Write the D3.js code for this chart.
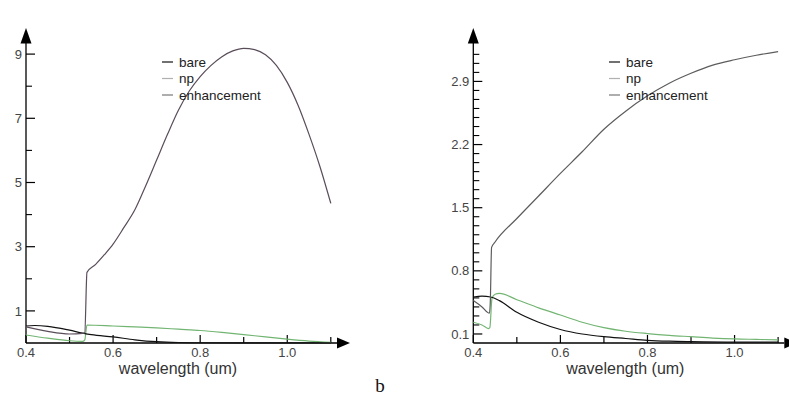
<!DOCTYPE html>
<html><head><meta charset="utf-8">
<script src="https://cdn.jsdelivr.net/npm/d3@7"></script>
<style>body{margin:0;background:#fff}svg{display:block}</style>
</head><body>
<svg id="c" width="789" height="400"></svg>
<script>
// ---- data ----
const seriesNames = ["bare", "np", "enhancement"];
const xTicks = [0.4, 0.6, 0.8, 1.0];
const xMinor = [0.5, 0.7, 0.9, 1.1];

// panel a
const aYTicks = [1, 3, 5, 7, 9];
const aYMinor = [2, 4, 6, 8];
const aBareX = [0.4, 0.42, 0.45, 0.5, 0.53, 0.55, 0.6, 0.65, 0.7, 0.75, 0.8, 0.9, 1.0, 1.1];
const aBareY = [0.53, 0.545, 0.52, 0.4, 0.31, 0.26, 0.19, 0.1, 0.04, 0.015, 0.008, 0.004, 0.002, 0.001];
const aNpX = [0.4, 0.45, 0.5, 0.53, 0.535, 0.54, 0.6, 0.65, 0.7, 0.75, 0.8, 0.85, 0.9, 0.95, 1.0, 1.05, 1.1];
const aNpY = [0.25, 0.15, 0.07, 0.05, 0.1, 0.56, 0.53, 0.5, 0.47, 0.43, 0.39, 0.33, 0.26, 0.19, 0.12, 0.06, 0.02];
const aEnhX = [0.4, 0.45, 0.5, 0.53, 0.535, 0.54, 0.56, 0.58, 0.6, 0.625, 0.65, 0.675, 0.7, 0.725, 0.75, 0.775, 0.8, 0.825, 0.85, 0.875, 0.9, 0.925, 0.95, 0.975, 1.0, 1.025, 1.05, 1.075, 1.1];
const aEnhY = [0.5, 0.36, 0.28, 0.3, 0.32, 2.2, 2.45, 2.75, 3.08, 3.6, 4.15, 4.9, 5.7, 6.5, 7.25, 7.85, 8.3, 8.65, 8.92, 9.1, 9.18, 9.14, 8.98, 8.65, 8.12, 7.4, 6.5, 5.5, 4.35];

// panel b
const bYTicks = [0.1, 0.8, 1.5, 2.2, 2.9];
const bYMinor = [0.2,0.3,0.4,0.5,0.6,0.7,0.9,1.0,1.1,1.2,1.3,1.4,1.6,1.7,1.8,1.9,2.0,2.1,2.3,2.4,2.5,2.6,2.7,2.8,3.0,3.1,3.2];
const bBareX = [0.4, 0.42, 0.44, 0.46, 0.5, 0.55, 0.6, 0.65, 0.7, 0.75, 0.8, 0.85, 0.9, 1.0, 1.1];
const bBareY = [0.51, 0.52, 0.51, 0.47, 0.34, 0.23, 0.15, 0.1, 0.07, 0.05, 0.03, 0.02, 0.015, 0.01, 0.01];
const bNpX = [0.4, 0.42, 0.435, 0.438, 0.443, 0.45, 0.46, 0.5, 0.55, 0.6, 0.65, 0.7, 0.75, 0.8, 0.85, 0.9, 0.95, 1.0, 1.05, 1.1];
const bNpY = [0.23, 0.2, 0.16, 0.17, 0.5, 0.54, 0.55, 0.48, 0.39, 0.31, 0.23, 0.17, 0.13, 0.105, 0.085, 0.07, 0.055, 0.045, 0.04, 0.035];
const bEnhX = [0.4, 0.42, 0.437, 0.439, 0.442, 0.45, 0.5, 0.55, 0.6, 0.65, 0.7, 0.75, 0.8, 0.85, 0.9, 0.95, 1.0, 1.05, 1.1];
const bEnhY = [0.47, 0.4, 0.33, 0.45, 1.06, 1.12, 1.38, 1.63, 1.88, 2.12, 2.37, 2.57, 2.74, 2.88, 2.99, 3.08, 3.14, 3.19, 3.23];

const colors = {bare: "#111111", np: "#72b572", enhancement: "#5c5c5c"};
const legendColors = {bare: "#111111", np: "#b0b0b0", enhancement: "#777777"};

const svg = d3.select("#c");
const font = "'Liberation Sans', Arial, sans-serif";

function panel(cfg) {
  const g = svg.append("g");
  const x = d3.scaleLinear().domain([0.4, 1.1]).range([cfg.left, cfg.left + 304.8]);
  const xEnd = cfg.left + 311;
  const y = d3.scaleLinear().domain([0, cfg.yPerPx * 300]).range([343, 43]);

  // axes lines
  g.append("line").attr("x1", x(0.4)).attr("x2", xEnd).attr("y1", 343).attr("y2", 343).attr("stroke", "#000").attr("stroke-width", 1.3);
  g.append("line").attr("x1", x(0.4)).attr("x2", x(0.4)).attr("y1", 343).attr("y2", 43).attr("stroke", "#000").attr("stroke-width", 1.3);
  // arrows
  g.append("path").attr("d", `M${xEnd},337.5 L${xEnd + 13},343 L${xEnd},348.5 Z`).attr("fill", "#000");
  g.append("path").attr("d", `M${x(0.4) - 5.5},43.5 L${x(0.4)},28 L${x(0.4) + 5.5},43.5 Z`).attr("fill", "#000");

  // x ticks
  xTicks.forEach(t => {
    g.append("line").attr("x1", x(t)).attr("x2", x(t)).attr("y1", 343).attr("y2", 335).attr("stroke", "#000").attr("stroke-width", 1.2);
    g.append("text").attr("x", x(t)).attr("y", 357).attr("text-anchor", "middle")
      .attr("font-family", font).attr("font-size", 13).attr("fill", "#444").text(t.toFixed(1));
  });
  xMinor.forEach(t => {
    g.append("line").attr("x1", x(t)).attr("x2", x(t)).attr("y1", 343).attr("y2", 337).attr("stroke", "#000").attr("stroke-width", 1.2);
  });
  // y ticks
  cfg.yTicks.forEach(t => {
    g.append("line").attr("x1", x(0.4)).attr("x2", x(0.4) + 9).attr("y1", y(t)).attr("y2", y(t)).attr("stroke", "#000").attr("stroke-width", 1.2);
    g.append("text").attr("x", x(0.4) - 4).attr("y", y(t) + 4.6).attr("text-anchor", "end")
      .attr("font-family", font).attr("font-size", 13).attr("fill", "#444").text(t);
  });
  cfg.yMinor.forEach(t => {
    g.append("line").attr("x1", x(0.4)).attr("x2", x(0.4) + 6).attr("y1", y(t)).attr("y2", y(t)).attr("stroke", "#000").attr("stroke-width", 1.1);
  });

  // axis title
  g.append("text").attr("x", cfg.left + 152).attr("y", 374).attr("text-anchor", "middle")
    .attr("font-family", font).attr("font-size", 16).attr("fill", "#333").text("wavelength (um)");

  // lines
  const line = d3.line().x(d => x(d[0])).y(d => y(d[1])).curve(d3.curveMonotoneX);
  const order = [["np", cfg.np], ["bare", cfg.bare], ["enhancement", cfg.enh]];
  order.forEach(([name, [xs, ys]]) => {
    const pts = xs.map((v, i) => [v, ys[i]]);
    g.append("path").attr("d", line(pts)).attr("fill", "none")
      .attr("stroke", name === "enhancement" ? cfg.enhColor : colors[name]).attr("stroke-width", 1.2);
  });

  // legend
  seriesNames.forEach((n, i) => {
    const ly = 62 + i * 16.5;
    g.append("line").attr("x1", cfg.legendX).attr("x2", cfg.legendX + 11).attr("y1", ly).attr("y2", ly)
      .attr("stroke", legendColors[n]).attr("stroke-width", 1.2);
    g.append("text").attr("x", cfg.legendX + 17).attr("y", ly + 4.5).attr("font-family", font)
      .attr("font-size", 13.5).attr("fill", "#222").text(n);
  });
}

panel({left: 26, yPerPx: 1 / 32.1, yTicks: aYTicks, yMinor: aYMinor,
  bare: [aBareX, aBareY], np: [aNpX, aNpY], enh: [aEnhX, aEnhY], enhColor: "#5a4d5a", legendX: 162});
panel({left: 473.3, yPerPx: 1 / 90.2, yTicks: bYTicks, yMinor: bYMinor,
  bare: [bBareX, bBareY], np: [bNpX, bNpY], enh: [bEnhX, bEnhY], enhColor: "#5c5c5c", legendX: 609});

svg.append("text").attr("x", 380).attr("y", 392).attr("text-anchor", "middle")
  .attr("font-family", "'Liberation Serif', 'Times New Roman', serif").attr("font-size", 19).attr("fill", "#111").text("b");
</script>
</body></html>
